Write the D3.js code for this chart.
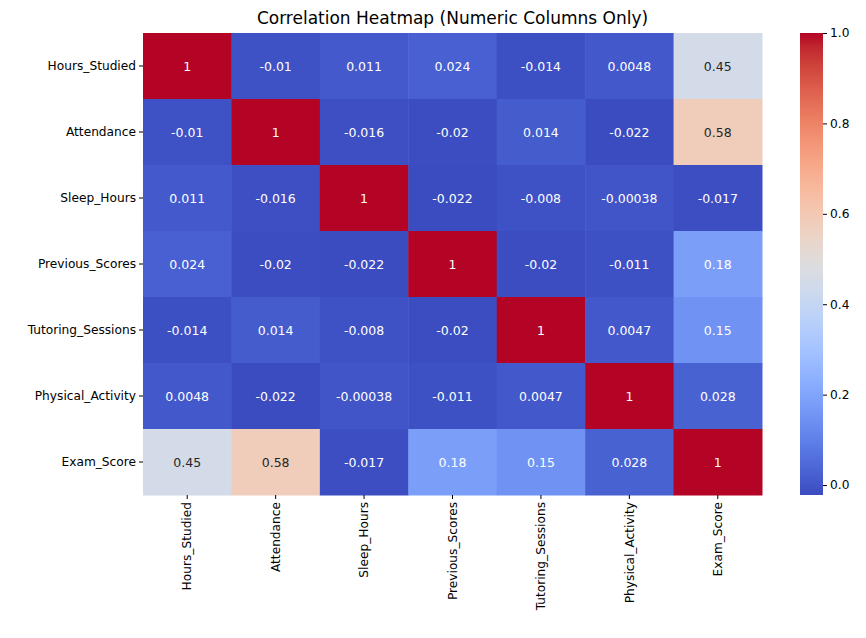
<!DOCTYPE html>
<html lang="en">
<head>
<meta charset="UTF-8">
<script src="https://d3js.org/d3.v7.min.js"></script>
<style>
  body { margin: 0; background: #fff; font-family: "DejaVu Sans", sans-serif; }
</style>
</head>
<body>
<div id="chart"></div>
<script>
// data
const columns = ["Hours_Studied", "Attendance", "Sleep_Hours", "Previous_Scores",
  "Tutoring_Sessions", "Physical_Activity", "Exam_Score"];
const matrix = [
  [1, -0.01, 0.011, 0.024, -0.014, 0.0048, 0.45],
  [-0.01, 1, -0.016, -0.02, 0.014, -0.022, 0.58],
  [0.011, -0.016, 1, -0.022, -0.008, -0.00038, -0.017],
  [0.024, -0.02, -0.022, 1, -0.02, -0.011, 0.18],
  [-0.014, 0.014, -0.008, -0.02, 1, 0.0047, 0.15],
  [0.0048, -0.022, -0.00038, -0.011, 0.0047, 1, 0.028],
  [0.45, 0.58, -0.017, 0.18, 0.15, 0.028, 1]
];
const barTicks = [0.0, 0.2, 0.4, 0.6, 0.8, 1.0];

const width = 866, height = 638;
const mLeft = 143, mTop = 33, plotW = 619, plotH = 462;

const svg = d3.select("#chart").append("svg")
  .attr("width", width).attr("height", height);

const vmin = d3.min(matrix.flat()), vmax = d3.max(matrix.flat());

// coolwarm colormap, sampled
const cwStops = [
  [59,76,192],[68,90,204],[77,104,215],[87,117,225],[98,130,234],[108,142,241],
  [119,154,247],[130,165,251],[141,176,254],[152,185,255],[163,194,255],[174,201,253],
  [184,208,249],[194,213,244],[204,217,238],[213,219,230],[221,221,221],
  [229,216,209],[236,211,197],[241,204,185],[245,196,173],[247,187,160],[247,177,148],
  [247,166,135],[244,154,123],[241,141,111],[236,127,99],[229,112,88],[222,96,77],
  [213,80,66],[203,62,56],[192,40,47],[180,4,38]
].map(c => d3.rgb(...c).formatHex());
const cw = d3.scaleLinear()
  .domain(cwStops.map((_, i) => i / (cwStops.length - 1)))
  .range(cwStops).interpolate(d3.interpolateRgb);
const color = v => cw((v - vmin) / (vmax - vmin));

const x = d3.scaleBand().domain(columns).range([mLeft, mLeft + plotW]);
const y = d3.scaleBand().domain(columns).range([mTop, mTop + plotH]);

const cells = [];
matrix.forEach((row, i) => row.forEach((v, j) => cells.push({ r: columns[i], c: columns[j], v })));

svg.selectAll("rect.cell").data(cells).enter().append("rect")
  .attr("x", d => x(d.c)).attr("y", d => y(d.r))
  .attr("width", x.bandwidth() + 0.5).attr("height", y.bandwidth() + 0.5)
  .attr("fill", d => color(d.v));

function lum(c) {
  const rgb = d3.rgb(c);
  const f = u => { u /= 255; return u <= 0.03928 ? u / 12.92 : Math.pow((u + 0.055) / 1.055, 2.4); };
  return 0.2126 * f(rgb.r) + 0.7152 * f(rgb.g) + 0.0722 * f(rgb.b);
}

svg.selectAll("text.val").data(cells).enter().append("text")
  .attr("x", d => x(d.c) + x.bandwidth() / 2)
  .attr("y", d => y(d.r) + y.bandwidth() / 2)
  .attr("text-anchor", "middle").attr("dominant-baseline", "central")
  .attr("font-size", 12.5)
  .attr("fill", d => lum(color(d.v)) > 0.408 ? "#262626" : "#fff")
  .text(d => String(d.v));

// axes
const yAxis = svg.append("g").attr("transform", `translate(${mLeft},0)`)
  .call(d3.axisLeft(y).tickSize(4).tickSizeOuter(0));
yAxis.select(".domain").remove();
yAxis.selectAll("text").attr("font-size", 12.2).attr("font-family", "DejaVu Sans").attr("fill", "#000");

const xAxis = svg.append("g").attr("transform", `translate(0,${mTop + plotH})`)
  .call(d3.axisBottom(x).tickSize(4).tickSizeOuter(0));
xAxis.select(".domain").remove();
xAxis.selectAll("text").attr("font-size", 12.2).attr("font-family", "DejaVu Sans").attr("fill", "#000")
  .attr("transform", "rotate(-90)").attr("text-anchor", "end")
  .attr("x", -7).attr("y", 0).attr("dy", "0.35em");

// title
svg.append("text").attr("x", mLeft + plotW / 2).attr("y", 24)
  .attr("text-anchor", "middle").attr("font-size", 17).attr("fill", "#000")
  .text("Correlation Heatmap (Numeric Columns Only)");

// colorbar
const cbX = 800, cbW = 23;
const cbY = d3.scaleLinear().domain([vmin, vmax]).range([mTop + plotH, mTop]);
const defs = svg.append("defs");
const grad = defs.append("linearGradient").attr("id", "cb")
  .attr("x1", 0).attr("y1", 1).attr("x2", 0).attr("y2", 0);
cwStops.forEach((c, i) => {
  grad.append("stop").attr("offset", i / (cwStops.length - 1)).attr("stop-color", c);
});
svg.append("rect").attr("x", cbX).attr("y", mTop).attr("width", cbW).attr("height", plotH)
  .attr("fill", "url(#cb)");
const cbAxis = svg.append("g").attr("transform", `translate(${cbX + cbW},0)`)
  .call(d3.axisRight(cbY).tickValues(barTicks).tickFormat(d3.format(".1f")).tickSize(4).tickSizeOuter(0));
cbAxis.select(".domain").remove();
cbAxis.selectAll("text").attr("font-size", 12.2).attr("font-family", "DejaVu Sans").attr("fill", "#000");
</script>
</body>
</html>
